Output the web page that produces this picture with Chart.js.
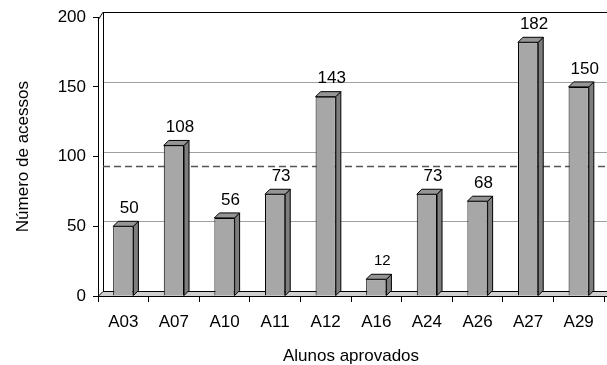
<!DOCTYPE html>
<html>
<head>
<meta charset="utf-8">
<script src="https://cdn.jsdelivr.net/npm/chart.js@4/dist/chart.umd.min.js"></script>
<style>
  body { margin: 0; background: #fff; }
  #caixa { width: 607px; height: 365px; }
</style>
</head>
<body>
<div id="caixa"><canvas id="graficoAcessos" width="607" height="365"></canvas></div>
<script>
// Alunos aprovados e número de acessos de cada um
const alunos = ['A03', 'A07', 'A10', 'A11', 'A12', 'A16', 'A24', 'A26', 'A27', 'A29'];
const acessos = [50, 108, 56, 73, 143, 12, 73, 68, 182, 150];
// linha tracejada (média de acessos)
const mediaAcessos = 90;
const ticksY = [0, 50, 100, 150, 200];

// deslocamento da profundidade (efeito 3D)
const prof = { dx: 5, dy: -5 };

const fonte = "'Liberation Sans', Arial, sans-serif";

// Desenha a parede do fundo, o chão e a linha da média
const fundo3D = {
  id: 'fundo3D',
  beforeDatasetsDraw(chart) {
    const { ctx, chartArea: a, scales: { y } } = chart;
    ctx.save();

    // linhas de grade na parede do fundo
    ctx.lineWidth = 1;
    for (const v of ticksY) {
      if (v === 0) continue;
      const py = Math.round(y.getPixelForValue(v) + prof.dy) + 0.5;
      ctx.strokeStyle = v === 200 ? '#000' : '#a0a0a0';
      ctx.beginPath();
      ctx.moveTo(a.left + prof.dx, py);
      ctx.lineTo(chart.width, py);
      ctx.stroke();
    }

    // borda esquerda da parede do fundo
    ctx.strokeStyle = '#000';
    ctx.beginPath();
    ctx.moveTo(a.left + prof.dx + 0.5, a.top + prof.dy);
    ctx.lineTo(a.left + prof.dx + 0.5, a.bottom + prof.dy);
    ctx.stroke();
    ctx.beginPath();
    ctx.moveTo(a.left, a.top + 3);
    ctx.lineTo(a.left + prof.dx, a.top + prof.dy);
    ctx.stroke();

    // linha tracejada da média
    const pm = Math.round(y.getPixelForValue(mediaAcessos) + prof.dy) + 0.5;
    ctx.strokeStyle = '#555';
    ctx.lineWidth = 1.5;
    ctx.setLineDash([7, 4]);
    ctx.beginPath();
    ctx.moveTo(a.left + prof.dx, pm);
    ctx.lineTo(chart.width, pm);
    ctx.stroke();
    ctx.setLineDash([]);

    // chão
    ctx.lineWidth = 1;
    ctx.fillStyle = '#cfcfcf';
    ctx.strokeStyle = '#000';
    ctx.beginPath();
    ctx.moveTo(a.left, a.bottom + 0.5);
    ctx.lineTo(a.left + prof.dx, a.bottom + prof.dy + 0.5);
    ctx.lineTo(chart.width + 10, a.bottom + prof.dy + 0.5);
    ctx.lineTo(chart.width + 10, a.bottom + 0.5);
    ctx.closePath();
    ctx.fill();
    ctx.stroke();
    ctx.restore();
  },

  // faces laterais, topo das barras e rótulos de valor
  afterDatasetsDraw(chart) {
    const { ctx } = chart;
    const meta = chart.getDatasetMeta(0);
    ctx.save();
    ctx.lineWidth = 1;
    ctx.strokeStyle = '#000';
    meta.data.forEach((barra, i) => {
      const esq = barra.x - barra.width / 2;
      const dir = barra.x + barra.width / 2;
      const topo = barra.y;
      const base = barra.base;

      ctx.fillStyle = '#7d7d7d';
      ctx.beginPath();
      ctx.moveTo(dir, topo);
      ctx.lineTo(dir + prof.dx, topo + prof.dy);
      ctx.lineTo(dir + prof.dx, base + prof.dy);
      ctx.lineTo(dir, base);
      ctx.closePath();
      ctx.fill();
      ctx.stroke();

      ctx.fillStyle = '#959595';
      ctx.beginPath();
      ctx.moveTo(esq, topo);
      ctx.lineTo(esq + prof.dx, topo + prof.dy);
      ctx.lineTo(dir + prof.dx, topo + prof.dy);
      ctx.lineTo(dir, topo);
      ctx.closePath();
      ctx.fill();
      ctx.stroke();

      // valor em cima da barra
      const v = acessos[i];
      ctx.fillStyle = '#000';
      ctx.font = (v < 20 ? 15 : 17) + 'px ' + fonte;
      ctx.textAlign = 'center';
      ctx.textBaseline = 'middle';
      ctx.fillText(String(v), barra.x + 6, topo - 18);
    });
    ctx.restore();
  }
};

const ctx = document.getElementById('graficoAcessos').getContext('2d');

const grafico = new Chart(ctx, {
  type: 'bar',
  data: {
    labels: alunos,
    datasets: [{
      label: 'Número de acessos',
      data: acessos,
      backgroundColor: '#a7a7a7',
      borderColor: '#000',
      borderWidth: 1,
      categoryPercentage: 1,
      barPercentage: 0.4
    }]
  },
  options: {
    responsive: false,
    animation: false,
    layout: { padding: { top: 16, right: 3, left: 0, bottom: 0 } },
    plugins: {
      legend: { display: false },
      tooltip: { enabled: false }
    },
    scales: {
      x: {
        offset: true,
        grid: { display: true, drawOnChartArea: false, drawTicks: true, tickLength: 6, color: '#000', offset: true },
        border: { color: '#000' },
        ticks: { color: '#000', font: { family: fonte, size: 17 }, padding: 10, maxRotation: 0 },
        title: { display: true, text: 'Alunos aprovados', color: '#000', font: { family: fonte, size: 17 }, padding: { top: 0, bottom: -2 } },
        afterFit(scale) { scale.height = 69; }
      },
      y: {
        min: 0,
        max: 200,
        grid: { drawOnChartArea: false, drawTicks: true, tickLength: 5, color: '#000' },
        border: { color: '#000' },
        ticks: { stepSize: 50, color: '#000', font: { family: fonte, size: 17 }, padding: 7 },
        title: { display: true, text: 'Número de acessos', color: '#000', font: { family: fonte, size: 17 }, padding: { top: 13, bottom: 0 } },
        afterFit(scale) { scale.width = 98; }
      }
    }
  },
  plugins: [fundo3D]
});
</script>
</body>
</html>
